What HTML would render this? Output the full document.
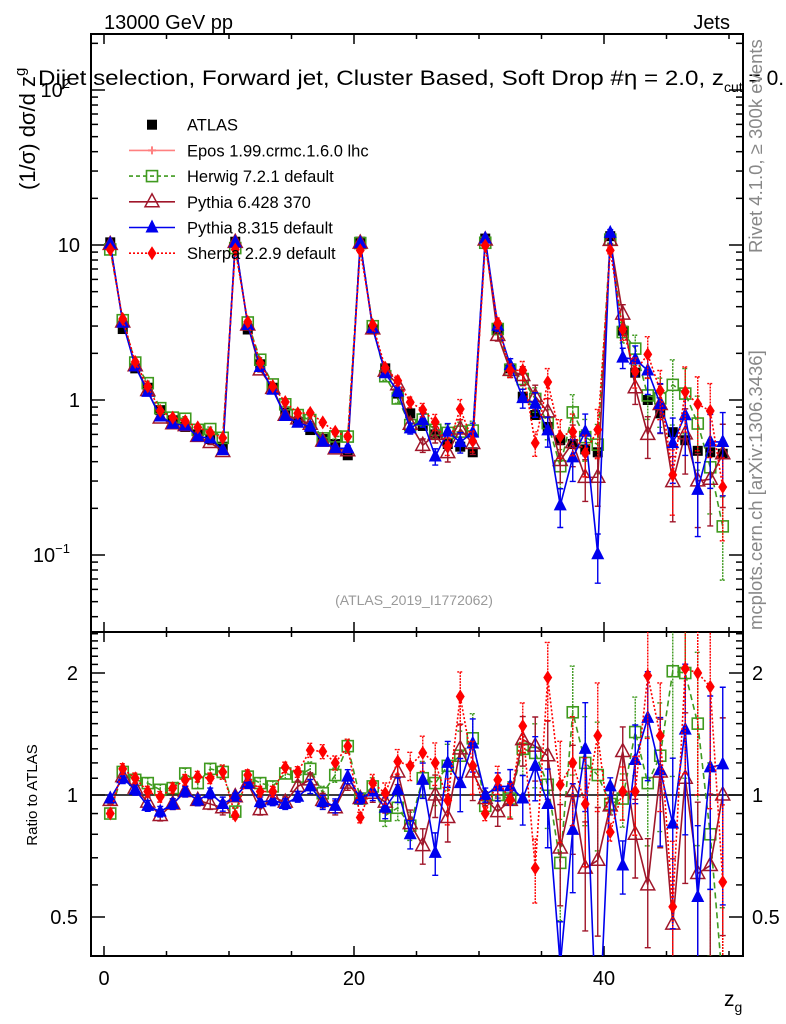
<!DOCTYPE html>
<html><head><meta charset="utf-8"><style>
html,body{margin:0;padding:0;background:#fff;width:786px;height:1024px;overflow:hidden;}
svg{display:block;font-family:"Liberation Sans",sans-serif;}
</style></head><body>
<svg id="chart" width="786" height="1024" viewBox="0 0 786 1024" xmlns="http://www.w3.org/2000/svg">
<defs>
<clipPath id="clipMain"><rect x="91" y="34" width="652" height="598"/></clipPath>
<clipPath id="clipRatio"><rect x="91" y="632" width="652" height="324"/></clipPath>
</defs>
<text x="104" y="29" font-size="20">13000 GeV pp</text>
<text x="730" y="29" font-size="20" text-anchor="end">Jets</text>
<text transform="translate(35,190) rotate(-90)" font-size="22">(1/σ) dσ/d z<tspan font-size="15" dy="-10">g</tspan></text>
<text x="38" y="85" font-size="21"><tspan textLength="686" lengthAdjust="spacingAndGlyphs">Dijet selection, Forward jet, Cluster Based, Soft Drop #η = 2.0, z</tspan><tspan font-size="14" dy="7">cut</tspan><tspan dy="-7"> = 0.</tspan></text>
<text transform="translate(762,253) rotate(-90)" font-size="18.5" fill="#888">Rivet 4.1.0, ≥ 300k events</text>
<text transform="translate(762,630) rotate(-90)" font-size="18.5" fill="#888">mcplots.cern.ch [arXiv:1306.3436]</text>
<text x="414" y="605" font-size="14" fill="#999" text-anchor="middle">(ATLAS_2019_I1772062)</text>
<text transform="translate(37,795) rotate(-90)" font-size="15" text-anchor="middle">Ratio to ATLAS</text>
<text x="724" y="1006" font-size="21">z<tspan font-size="14" dy="6">g</tspan></text>
<g id="axes"></g>
<g id="mainMarks" clip-path="url(#clipMain)"></g>
<g id="ratioMarks" clip-path="url(#clipRatio)"></g>
<g id="legend"></g>
</svg>
<script>
// ---- data ----
const binCenters = [0.5,1.5,2.5,3.5,4.5,5.5,6.5,7.5,8.5,9.5,10.5,11.5,12.5,13.5,14.5,15.5,16.5,17.5,18.5,19.5,20.5,21.5,22.5,23.5,24.5,25.5,26.5,27.5,28.5,29.5,30.5,31.5,32.5,33.5,34.5,35.5,36.5,37.5,38.5,39.5,40.5,41.5,42.5,43.5,44.5,45.5,46.5,47.5,48.5,49.5];
const atlasValues = [10.4,2.87,1.6,1.2,0.86,0.74,0.67,0.6,0.56,0.5, 10.5,2.85,1.7,1.2,0.83,0.72,0.64,0.56,0.52,0.44, 10.5,2.85,1.6,1.1,0.82,0.68,0.6,0.52,0.5,0.46, 11.0,2.87,1.6,1.05,0.8,0.67,0.55,0.52,0.48,0.46, 11.4,2.8,1.5,1.0,0.82,0.62,0.55,0.47,0.46,0.45];
const mcRelErr = [.02,.03,.03,.03,.03,.03,.03,.03,.03,.04, .02,.03,.03,.03,.03,.03,.04,.04,.04,.04, .03,.05,.06,.07,.08,.10,.12,.13,.15,.15, .04,.08,.10,.14,.18,.22,.28,.30,.30,.35, .05,.15,.22,.30,.35,.45,.45,.50,.50,.55];
const herwigRatio = [0.90,1.14,1.09,1.07,1.03,1.04,1.13,1.07,1.16,1.14, 0.91,1.11,1.07,1.05,1.13,1.11,1.16,1.01,1.12,1.32, 0.98,1.05,0.89,0.93,0.84,1.10,1.07,1.18,1.25,1.38, 0.94,1.00,0.98,1.30,1.27,1.06,0.68,1.60,1.20,1.12, 0.95,0.98,1.43,1.07,1.25,2.02,2.00,1.50,0.80,0.34];
const pythia6Ratio = [0.97,1.11,1.04,0.96,0.89,0.95,1.02,0.97,0.95,0.93, 0.99,1.07,0.92,0.99,0.96,1.05,1.09,0.97,0.93,1.07, 0.98,1.01,0.96,1.14,0.85,0.75,1.00,0.88,1.30,1.14, 0.98,0.91,0.97,1.37,1.32,1.25,0.74,1.02,0.66,0.69, 0.94,1.28,0.80,0.60,1.14,0.48,1.10,0.64,0.67,1.00];
const pythia8Ratio = [0.98,1.10,1.03,0.94,0.91,0.95,1.02,0.97,1.01,0.95, 0.99,1.07,0.96,0.97,0.95,0.99,1.05,0.96,0.94,1.11, 0.98,1.02,0.93,1.03,0.80,1.09,0.72,1.20,1.07,1.34, 1.00,1.05,1.05,0.98,1.18,0.95,0.38,0.82,1.30,0.22, 1.05,0.67,1.22,1.55,1.15,0.85,1.45,0.56,1.17,1.19];
const sherpaRatio = [0.90,1.16,1.10,1.02,0.99,1.04,1.09,1.11,1.10,1.14, 0.89,1.12,1.02,1.02,1.17,1.14,1.29,1.28,1.20,1.32, 0.88,1.07,1.01,1.21,1.18,1.27,1.20,0.97,1.75,1.18, 0.90,1.09,0.97,1.48,0.66,1.95,1.06,1.20,0.95,1.40, 0.81,1.02,1.02,1.97,1.40,0.53,2.05,2.00,1.85,0.61];
const ratioTickValues = [0.5,1,2];
const xTickValues = [0,20,40];

// ---- scales ----
const X0=91, X1=743, YT=34, YM=632, YB=956;
function xs(z){return 104+12.5*z;}
function ym(v){return 400-155*Math.log10(v);}
function yr(r){return 795-122*Math.log2(r);}
function cl(y,a,b){return Math.max(a-2,Math.min(b+2,y));}
const NS="http://www.w3.org/2000/svg";
function el(tag,attrs,parent){const e=document.createElementNS(NS,tag);for(const k in attrs)e.setAttribute(k,attrs[k]);parent.appendChild(e);return e;}
const axes=document.getElementById('axes');
const gMain=document.getElementById('mainMarks');
const gRatio=document.getElementById('ratioMarks');
const gLeg=document.getElementById('legend');

let f1=el('rect',{x:X0,y:YT,width:X1-X0,height:YM-YT,fill:'none',stroke:'#000','stroke-width':2},axes);


let f2=el('rect',{x:X0,y:YM,width:X1-X0,height:YB-YM,fill:'none',stroke:'#000','stroke-width':2},axes);



for(let z=0;z<=50;z+=5){
  const major=(z%20===0);
  const L=major?10:5;
  const x=xs(z);
  let t;
  t=el('line',{x1:x,x2:x,y1:YB,y2:YB-L,stroke:'#000','stroke-width':1.5},axes);
   
  t=el('line',{x1:x,x2:x,y1:YM,y2:YM-L,stroke:'#000','stroke-width':1.5},axes);
   
  t=el('line',{x1:x,x2:x,y1:YM,y2:YM+L,stroke:'#000','stroke-width':1.5},axes);
   
  t=el('line',{x1:x,x2:x,y1:YT,y2:YT+L,stroke:'#000','stroke-width':1.5},axes);
   
}
xTickValues.forEach(z=>{
  const t=el('text',{x:xs(z),y:985,'font-size':20,'text-anchor':'middle'},axes);
  t.textContent=String(z);
   
});

for(let d=-2;d<=2;d++){
  for(let m=1;m<=9;m++){
    const v=m*Math.pow(10,d);
    const y=ym(v);
    if(y<YT||y>YM)continue;
    const L=(m===1)?14:7;
    let t=el('line',{x1:X0,x2:X0+L,y1:y,y2:y,stroke:'#000','stroke-width':1.5},axes);
     
    t=el('line',{x1:X1,x2:X1-L,y1:y,y2:y,stroke:'#000','stroke-width':1.5},axes);
     
  }
}
[[-1,'10','−1'],[0,'1',''],[1,'10',''],[2,'10','2']].forEach(a=>{
  const t=el('text',{x:a[2]?70:80,y:ym(Math.pow(10,a[0]))+7,'font-size':20,'text-anchor':'end'},axes);
  t.textContent=a[1];
  if(a[2]){const s=el('tspan',{'font-size':13,dy:-9},t);s.textContent=a[2];}
   
});

const rMinor=[0.5,0.6,0.7,0.8,0.9,1,1.1,1.2,1.3,1.4,1.5,1.6,1.7,1.8,1.9,2,2.1,2.2,2.3,2.4,2.5];
rMinor.forEach(r=>{
  const y=yr(r); if(y<YM||y>YB)return;
  const L=ratioTickValues.includes(r)?14:7;
  let t=el('line',{x1:X0,x2:X0+L,y1:y,y2:y,stroke:'#000','stroke-width':1.5},axes);
   
  t=el('line',{x1:X1,x2:X1-L,y1:y,y2:y,stroke:'#000','stroke-width':1.5},axes);
   
});
ratioTickValues.forEach(r=>{
  let t=el('text',{x:78,y:yr(r)+7,'font-size':20,'text-anchor':'end'},axes);
  t.textContent=String(r);
   
  t=el('text',{x:752,y:yr(r)+7,'font-size':20},axes);
  t.textContent=String(r);
   
});
let one=el('line',{x1:X0,x2:X1,y1:yr(1),y2:yr(1),stroke:'#000','stroke-width':1.5},gRatio);
 

function marker(kind,x,y,color,parent,name){
  let e;
  if(kind==='fsq') e=el('rect',{x:x-5,y:y-5,width:10,height:10,fill:color},parent);
  else if(kind==='osq') e=el('rect',{x:x-5.5,y:y-5.5,width:11,height:11,fill:'none',stroke:color,'stroke-width':1.6},parent);
  else if(kind==='otri') e=el('polygon',{points:`${x},${y-8} ${x-7},${y+5} ${x+7},${y+5}`,fill:'none',stroke:color,'stroke-width':1.5},parent);
  else if(kind==='ftri') e=el('polygon',{points:`${x},${y-8} ${x-6.5},${y+5} ${x+6.5},${y+5}`,fill:color},parent);
  else if(kind==='dia') e=el('polygon',{points:`${x},${y-7} ${x-4.5},${y} ${x},${y+7} ${x+4.5},${y}`,fill:color},parent);
  else if(kind==='cross') e=el('path',{d:`M${x-4} ${y}H${x+4}M${x} ${y-4}V${y+4}`,stroke:color,'stroke-width':2},parent);
  
  
  return e;
}

const series=[
  {name:'herwig',ratio:herwigRatio,color:'#3f9a1f',dash:'6,4',kind:'osq'},
  {name:'pythia6',ratio:pythia6Ratio,color:'#a0162a',dash:'',kind:'otri'},
  {name:'pythia8',ratio:pythia8Ratio,color:'#0000ee',dash:'',kind:'ftri'},
  {name:'sherpa',ratio:sherpaRatio,color:'#ff0000',dash:'2,2',kind:'dia'}
];

binCenters.forEach((z,i)=>{
  marker('fsq',xs(z),ym(atlasValues[i]),'#000',gMain,'atlas-point');
});

series.forEach(s=>{
  const mainPts=[], ratioPts=[];
  binCenters.forEach((z,i)=>{
    const v=atlasValues[i]*s.ratio[i];
    mainPts.push([xs(z),ym(v)]);
    ratioPts.push([xs(z),yr(s.ratio[i])]);
  });
  let pl=el('polyline',{points:mainPts.map(p=>p.join(',')).join(' '),fill:'none',stroke:s.color,'stroke-width':1.6,'stroke-dasharray':s.dash},gMain);
  
  
  pl=el('polyline',{points:ratioPts.map(p=>p.join(',')).join(' '),fill:'none',stroke:s.color,'stroke-width':1.6,'stroke-dasharray':s.dash},gRatio);
  
  
  binCenters.forEach((z,i)=>{
    const v=atlasValues[i]*s.ratio[i], e=mcRelErr[i], r=s.ratio[i];
    const x=xs(z);
    let lo=cl(ym(Math.max(v*(1-e),1e-3)),YT,YM), hi=cl(ym(v*(1+e)),YT,YM);
    let b=el('path',{d:`M${x} ${lo}V${hi}M${x-3} ${lo}H${x+3}M${x-3} ${hi}H${x+3}`,stroke:s.color,'stroke-width':1.4,'stroke-dasharray':s.dash?'2,1':'',fill:'none'},gMain);
    
    
    let rlo=cl(yr(Math.max(r*(1-e),1e-3)),YM,YB), rhi=cl(yr(r*(1+e)),YM,YB);
    b=el('path',{d:`M${x} ${rlo}V${rhi}M${x-3} ${rlo}H${x+3}M${x-3} ${rhi}H${x+3}`,stroke:s.color,'stroke-width':1.4,'stroke-dasharray':s.dash?'2,1':'',fill:'none'},gRatio);
    
    
    marker(s.kind,x,ym(v),s.color,gMain,s.name+'-point');
    marker(s.kind,x,yr(r),s.color,gRatio,s.name+'-ratio-point');
  });
});

const legendNames=['ATLAS','Epos 1.99.crmc.1.6.0 lhc','Herwig 7.2.1 default','Pythia 6.428 370','Pythia 8.315 default','Sherpa 2.2.9 default'];
const legendStyles=[
  {kind:'fsq',color:'#000',dash:null},
  {kind:'cross',color:'#ff8080',dash:''},
  {kind:'osq',color:'#3f9a1f',dash:'4,3'},
  {kind:'otri',color:'#a0162a',dash:''},
  {kind:'ftri',color:'#0000ee',dash:''},
  {kind:'dia',color:'#ff0000',dash:'2,2'}
];
legendNames.forEach((n,i)=>{
  const y=124.7+25.7*i;
  const g=el('g',{},gLeg);
  
  
  const st=legendStyles[i];
  if(st.dash!==null){
    const l=el('line',{x1:129,x2:175,y1:y,y2:y,stroke:st.color,'stroke-width':1.6,'stroke-dasharray':st.dash},g);
     
  }
  marker(st.kind,152,y,st.color,g,'legend-marker');
  const t=el('text',{x:187,y:y+6,'font-size':16.5},g);
  t.textContent=n;
   
});
</script>
</body></html>
